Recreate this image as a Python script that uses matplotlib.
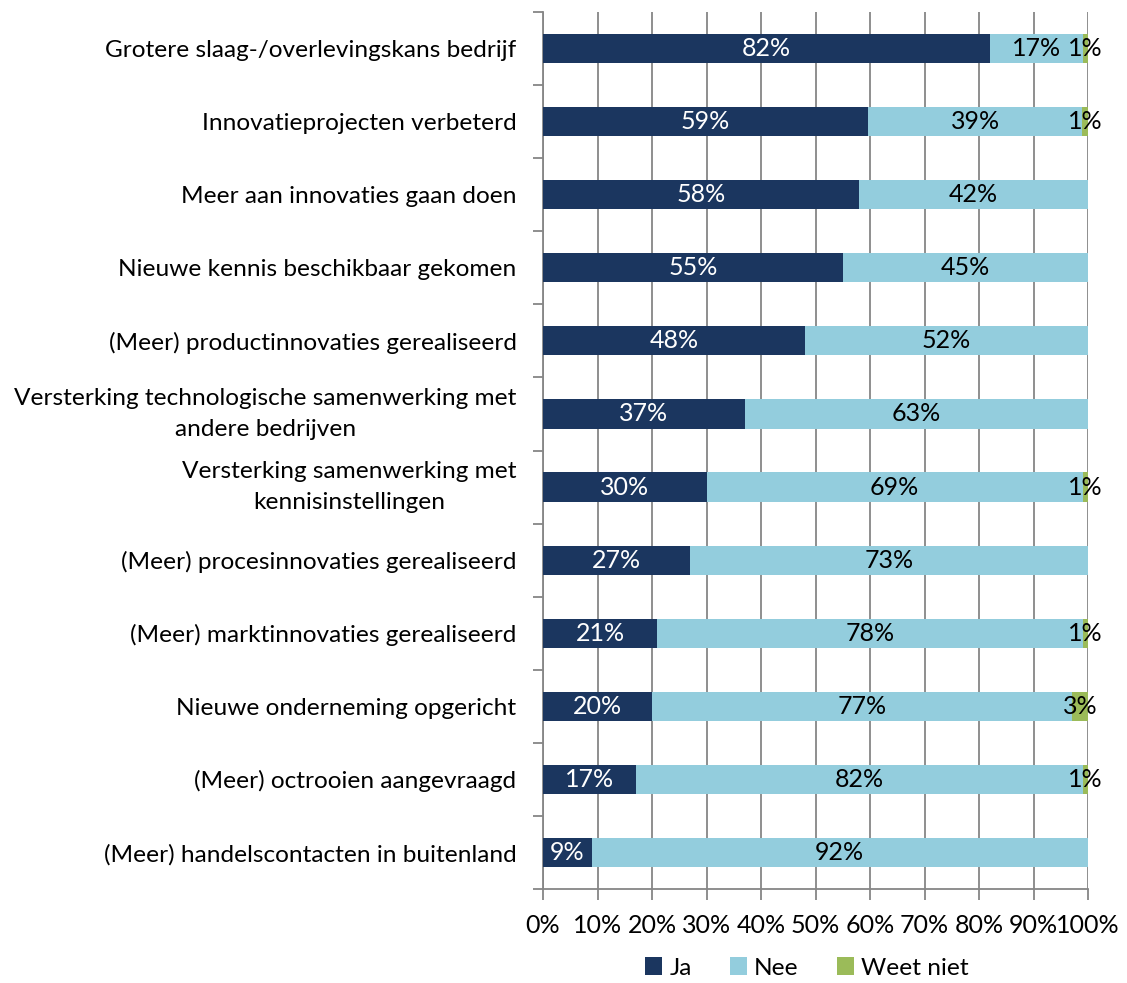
import matplotlib
matplotlib.use("Agg")
import matplotlib.pyplot as plt
import numpy as np

categories = [
    "Grotere slaag-/overlevingskans bedrijf",
    "Innovatieprojecten verbeterd",
    "Meer aan innovaties gaan doen",
    "Nieuwe kennis beschikbaar gekomen",
    "(Meer) productinnovaties gerealiseerd",
    "Versterking technologische samenwerking met\nandere bedrijven",
    "Versterking samenwerking met\nkennisinstellingen",
    "(Meer) procesinnovaties gerealiseerd",
    "(Meer) marktinnovaties gerealiseerd",
    "Nieuwe onderneming opgericht",
    "(Meer) octrooien aangevraagd",
    "(Meer) handelscontacten in buitenland",
]
ja = [82, 59, 58, 55, 48, 37, 30, 27, 21, 20, 17, 9]
nee = [17, 39, 42, 45, 52, 63, 69, 73, 78, 77, 82, 92]
weet_niet = [1, 1, 0, 0, 0, 0, 1, 0, 1, 3, 1, 0]
series_names = ["Ja", "Nee", "Weet niet"]
colors = ["#1B365F", "#93CDDD", "#9BBB59"]
text_colors = ["white", "black", "black"]
xtick_labels = ["0%", "10%", "20%", "30%", "40%", "50%", "60%", "70%", "80%", "90%", "100%"]

plt.rcParams["font.family"] = ["Lato", "DejaVu Sans"]
FS_CAT = 17.6
FS_NUM = 18

fig = plt.figure(figsize=(11.27, 9.83), dpi=100)
ax = fig.add_axes([543 / 1127, 1 - 889 / 983, (1088 - 543) / 1127, (889 - 12) / 983])

data = np.array([ja, nee, weet_niet], dtype=float)
totals = data.sum(axis=0)
shares = data / totals * 100
y = np.arange(len(categories))
left = np.zeros(len(categories))
for i, name in enumerate(series_names):
    ax.barh(y, shares[i], left=left, height=0.4, color=colors[i],
            label=name, zorder=3)
    for j in range(len(categories)):
        if data[i, j] > 0:
            ax.text(left[j] + shares[i, j] / 2, y[j], f"{int(data[i, j])}%",
                    ha="center", va="center", fontsize=FS_NUM,
                    color=text_colors[i], zorder=4)
    left += shares[i]

ax.set_xlim(0, 100)
ax.set_ylim(len(categories) - 0.5, -0.5)
ax.set_xticks(np.arange(0, 101, 10))
ax.set_xticklabels(xtick_labels, fontsize=FS_NUM)
ax.set_yticks(y)
ax.set_yticklabels(categories, fontsize=FS_CAT, ha="right", multialignment="center",
                   linespacing=1.6)
# centre the two-line category labels on their bar
for lbl in ax.get_yticklabels():
    if "\n" in lbl.get_text():
        lbl.set_verticalalignment("center")
ax.tick_params(axis="y", length=0, pad=19)
ax.set_yticks(np.arange(-0.5, len(categories), 1), minor=True)
ax.tick_params(axis="y", which="minor", length=7, color="#868686", width=1.3)
ax.tick_params(axis="x", length=8, color="#868686", width=1.3, pad=10)

ax.grid(axis="x", color="#868686", linewidth=1.3, zorder=0)
for side in ["top", "right"]:
    ax.spines[side].set_visible(False)
for side in ["left", "bottom"]:
    ax.spines[side].set_color("#868686")
    ax.spines[side].set_linewidth(1.3)

fig.legend(loc="center", bbox_to_anchor=(0.716, 1 - 968 / 983), ncol=3,
           frameon=False, fontsize=FS_CAT, handlelength=0.7, handleheight=0.7,
           handletextpad=0.3, columnspacing=1.55)

fig.savefig("out.png", dpi=100)
